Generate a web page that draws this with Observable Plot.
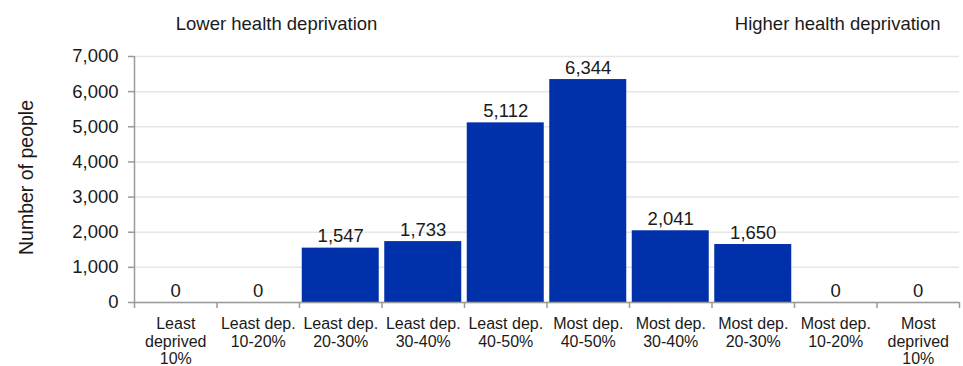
<!DOCTYPE html>
<html>
<head>
<meta charset="utf-8">
<script src="https://cdn.jsdelivr.net/npm/d3@7"></script>
<script src="https://cdn.jsdelivr.net/npm/@observablehq/plot@0.6"></script>
<style>
  html, body { margin: 0; padding: 0; background: #fff; }
  #chart svg { display: block; }
</style>
</head>
<body>
<div id="chart"></div>
<script>
const categories = [
  "Least\ndeprived\n10%", "Least dep.\n10-20%", "Least dep.\n20-30%", "Least dep.\n30-40%",
  "Least dep.\n40-50%", "Most dep.\n40-50%", "Most dep.\n30-40%", "Most dep.\n20-30%",
  "Most dep.\n10-20%", "Most\ndeprived\n10%"
];
const values = [0, 0, 1547, 1733, 5112, 6344, 2041, 1650, 0, 0];
const yTicks = [0, 1000, 2000, 3000, 4000, 5000, 6000, 7000];
const leftNote = "Lower health deprivation";
const rightNote = "Higher health deprivation";
const yLabel = "Number of people";

const data = categories.map((c, i) => ({i, category: c, value: values[i]}));
const fmt = d3.format(",");
const axisColor = "#9a9a9a";
const barColor = "#0030aa";

const chart = Plot.plot({
  width: 963,
  height: 366,
  marginTop: 56,
  marginBottom: 64,
  marginLeft: 134,
  marginRight: 4,
  style: {fontFamily: "'Liberation Sans', Arial, sans-serif", fontSize: "18.5px", color: "#1a1a1a", background: "#fff"},
  x: {type: "linear", domain: [0, categories.length]},
  y: {domain: [0, 7000]},
  marks: [
    Plot.gridY(yTicks, {stroke: "#e6e6e6", strokeOpacity: 1, strokeWidth: 1.5}),
    Plot.rectY(data, {x1: "i", x2: d => d.i + 1, y: "value", fill: barColor, insetLeft: 2.75, insetRight: 2.75}),
    Plot.text(data, {x: d => d.i + 0.5, y: "value", text: d => fmt(d.value), lineAnchor: "bottom", dy: -6, fontSize: 18.5}),
    Plot.ruleY([0], {stroke: axisColor, strokeWidth: 1.5}),
    Plot.ruleX([0], {stroke: axisColor, strokeWidth: 1.5}),
    Plot.axisY(yTicks, {
      tickFormat: fmt, tickSize: 6, tickPadding: 10, stroke: axisColor, strokeWidth: 1.5, fontSize: 18.5,
      label: null
    }),
    Plot.text([yLabel], {frameAnchor: "left", text: d => d, rotate: -90, textAnchor: "middle", lineAnchor: "top", dx: -115, dy: -2, fontSize: 19.5}),
    Plot.axisX(d3.range(0, categories.length + 1), {
      tickFormat: () => "", tickSize: 6, stroke: axisColor, strokeWidth: 1.5, label: null
    }),
    Plot.text(data, {x: d => d.i + 0.5, text: "category", frameAnchor: "bottom", lineAnchor: "top", dy: 14, fontSize: 16, lineHeight: 1.1}),
    Plot.text([leftNote], {x: 0.5, frameAnchor: "top", text: d => d, textAnchor: "start", dy: -40, fontSize: 18.5}),
    Plot.text([rightNote], {x: categories.length, frameAnchor: "top", text: d => d, textAnchor: "end", dx: -19, dy: -40, fontSize: 18.5})
  ]
});
document.getElementById("chart").appendChild(chart);
</script>
</body>
</html>
